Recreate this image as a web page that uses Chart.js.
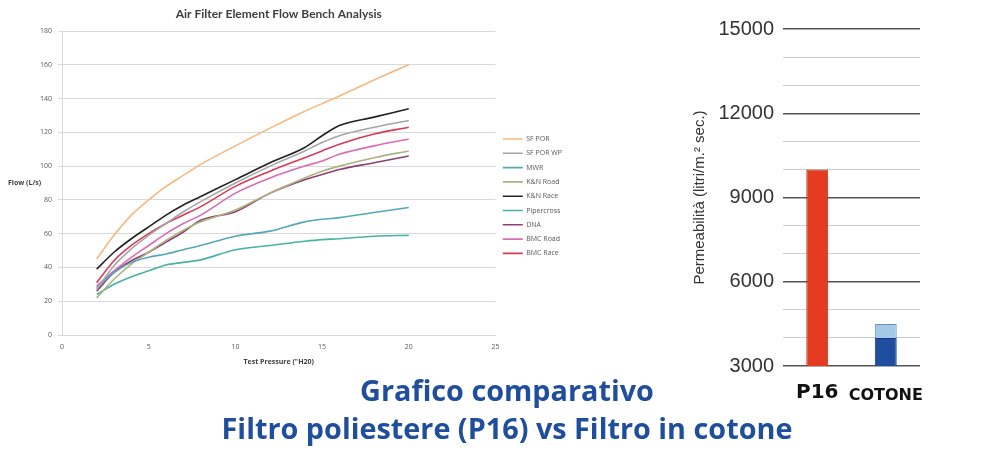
<!DOCTYPE html>
<html>
<head>
<meta charset="utf-8">
<script src="https://cdn.jsdelivr.net/npm/chart.js@4.4.1/dist/chart.umd.min.js"></script>
<style>
  body { margin: 0; background: #fff; width: 1000px; height: 450px; position: relative; overflow: hidden; }
  canvas { position: absolute; }
  #flowChart { left: 0; top: 0; }
  #permChart { left: 680px; top: 0; }
  .ylab { position: absolute; left: 8px; top: 178px; font: bold 7px "Open Sans", sans-serif; color: #404040; }
  .caption { position: absolute; left: 157px; width: 700px; text-align: center;
             font: bold 28.8px "Open Sans", sans-serif; color: #1f4e9c; line-height: 38px; }
</style>
</head>
<body>
<canvas id="flowChart" width="572" height="370"></canvas>
<div class="ylab">Flow (L/s)</div>
<canvas id="permChart" width="262" height="410"></canvas>
<div class="caption" style="top:371px">Grafico comparativo</div>
<div class="caption" style="top:409px">Filtro poliestere (P16) vs Filtro in cotone</div>
<script>
// test pressure ("H20) readings
const pressure = [2, 3, 4, 5, 6, 7, 8, 10, 12, 14, 15, 16, 18, 20];

// flow (L/s) per filter
const sfPor     = [45, 59, 71, 80, 88, 94.5, 101, 112, 122.5, 132.5, 137, 141.5, 151, 160];
const sfPorWp   = [27, 41, 51, 59, 66, 73, 79, 90, 100, 109, 114, 118, 123, 127];
const mwr       = [28, 37, 43, 46, 48, 50.5, 53, 58.5, 61.5, 67, 68.5, 69.5, 72.5, 75.5];
const knRoad    = [22, 33, 42, 49, 56, 62, 67, 74, 84, 93, 97, 100, 105, 109];
const knRace    = [39, 49, 57, 64, 71, 77, 82, 92, 102, 111, 118, 124, 129, 134];
const pipercross = [24, 30, 34.5, 38, 41.5, 43, 44.5, 50.5, 53, 55.5, 56.5, 57, 58.5, 59];
const dna       = [26, 37, 44, 49, 55, 61, 68, 73, 84, 92, 95, 98, 102, 106];
const bmcRoad   = [29, 38, 46, 53, 60, 66, 71, 84, 93, 100, 103, 107, 112, 116];
const bmcRace   = [31, 44, 53, 60, 66, 71, 76, 88, 97, 105, 109, 113, 119, 123];

// permeability chart
const materials = ['P16', 'COTONE'];
const p16Perm = [10000, null];
const cottonPerm = [null, 4000];
const cottonPermRange = [null, 500];

Chart.defaults.font.family = '"Open Sans", sans-serif';

function series(label, values, color) {
  return {
    label: label,
    data: pressure.map((x, i) => ({ x: x, y: values[i] })),
    borderColor: color,
    backgroundColor: color,
    borderWidth: 1.6,
    pointRadius: 0,
    cubicInterpolationMode: 'monotone'
  };
}

const flowData = {
  datasets: [
    series('SF POR', sfPor, '#f5b880'),
    series('SF POR WP', sfPorWp, '#a6a6a6'),
    series('MWR', mwr, '#55a8b8'),
    series('K&N Road', knRoad, '#acb37c'),
    series('K&N Race', knRace, '#222222'),
    series('Pipercross', pipercross, '#48b3a3'),
    series('DNA', dna, '#8e3f72'),
    series('BMC Road', bmcRoad, '#d96cb5'),
    series('BMC Race', bmcRace, '#d63c5a')
  ]
};

const flowChart = new Chart(document.getElementById('flowChart'), {
  type: 'line',
  data: flowData,
  options: {
    responsive: false,
    animation: false,
    devicePixelRatio: 1,
    layout: { padding: 0 },
    plugins: {
      title: {
        display: true,
        fullSize: false,
        text: 'Air Filter Element Flow Bench Analysis',
        color: '#404040',
        font: { family: 'Lato', size: 12, weight: 'bold' },
        padding: { top: 7, bottom: 9.6 }
      },
      legend: {
        position: 'right',
        fullSize: false,
        title: { display: true, text: '', padding: 9, font: { size: 7 } },
        labels: {
          usePointStyle: true,
          pointStyle: 'line',
          pointStyleWidth: 20,
          boxHeight: 7,
          padding: 7.3,
          color: '#595959',
          font: { size: 7 }
        }
      },
      tooltip: { enabled: false }
    },
    scales: {
      x: {
        type: 'linear',
        min: 0,
        max: 25,
        ticks: { stepSize: 5, color: '#595959', font: { size: 7 }, padding: 0 },
        grid: { display: false },
        border: { color: '#d9d9d9' },
        title: {
          display: true,
          text: 'Test Pressure ("H20)',
          color: '#404040',
          font: { size: 7, weight: 'bold' },
          padding: { top: 1 }
        },
        afterFit: (scale) => { scale.height = 35; }
      },
      y: {
        min: 0,
        max: 180,
        ticks: { stepSize: 20, color: '#595959', font: { size: 7 }, padding: 6 },
        grid: { color: '#d9d9d9', tickLength: 4 },
        border: { color: '#d9d9d9' },
        afterFit: (scale) => { scale.width = 62; }
      }
    }
  }
});

const permChart = new Chart(document.getElementById('permChart'), {
  type: 'bar',
  data: {
    labels: materials,
    datasets: [
      { label: 'P16', data: p16Perm, backgroundColor: '#e53b20', borderColor: '#a8311f', borderWidth: 1 },
      { label: 'Cotone', data: cottonPerm, backgroundColor: '#1f4e9e', borderColor: '#16387a', borderWidth: 1 },
      { label: 'Cotone max', data: cottonPermRange, backgroundColor: '#a3c8e8', borderColor: '#6b8fb8', borderWidth: 1 }
    ]
  },
  options: {
    responsive: false,
    animation: false,
    devicePixelRatio: 1,
    layout: { padding: { top: 29, right: 22, bottom: 0, left: 0 } },
    datasets: { bar: { barPercentage: 0.32, categoryPercentage: 1 } },
    plugins: { legend: { display: false }, tooltip: { enabled: false } },
    scales: {
      x: {
        stacked: true,
        grid: { display: false },
        border: { display: false },
        ticks: {
          color: '#111',
          padding: 19,
          autoSkip: false,
          maxRotation: 0,
          minRotation: 0,
          crossAlign: 'center',
          font: (ctx) => ({ family: '"DejaVu Sans"', weight: 'bold', size: ctx.index === 0 ? 20 : 16 })
        },
        afterFit: (scale) => {
          scale.height = 44;
          scale.paddingLeft = 0;
          scale.paddingRight = 0;
        }
      },
      y: {
        stacked: true,
        min: 3000,
        max: 15000,
        ticks: {
          stepSize: 1000,
          autoSkip: false,
          padding: 9,
          color: '#333',
          font: { family: '"Liberation Sans"', size: 20 },
          callback: (v) => (v % 3000 === 0 ? v : '')
        },
        grid: {
          drawTicks: false,
          color: (ctx) => (ctx.tick && ctx.tick.value % 3000 === 0 ? '#555' : '#cccccc'),
          lineWidth: (ctx) => (ctx.tick && ctx.tick.value % 3000 === 0 ? 1.5 : 1)
        },
        border: { display: false },
        title: {
          display: true,
          text: 'Permeabilità (litri/m.² sec.)',
          color: '#333',
          font: { family: '"Liberation Sans"', size: 15 },
          padding: { top: 11, bottom: 0 }
        },
        afterFit: (scale) => { scale.width = 103; }
      }
    }
  }
});
</script>
</body>
</html>
